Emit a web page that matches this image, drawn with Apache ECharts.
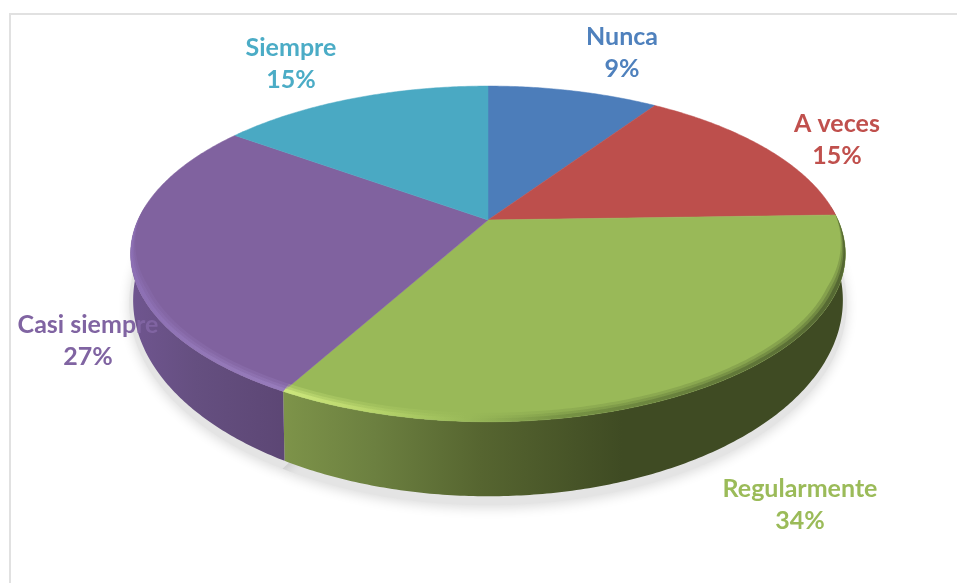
<!DOCTYPE html>
<html><head><meta charset="utf-8">
<style>html,body{margin:0;padding:0;background:#fff}#c{width:957px;height:583px}</style>
<script src="https://cdn.jsdelivr.net/npm/echarts@6/dist/echarts.min.js"></script></head>
<body><div id="c"></div>
<script>
const categories = ['Nunca','A veces','Regularmente','Casi siempre','Siempre'];
const values = [9.4, 15.1, 33.5, 27, 15];
const faceColors = ['#4c7dba','#bd4f4c','#99b958','#80629f','#4aa9c3'];
const textColors = ['#4f81bd','#c0504d','#9bbb59','#8064a2','#4bacc6'];
const labelCentres = [[622,53],[837,140],[800,505],[88,341],[291,64]];

const APEX = [488,220], R = 350, B = 161, K = 0.202;
const TOP = {sx:1, sy:1, drop:0};
const BOTTOM = {sx:0.993, sy:1.168, drop:40.6};
const SHADOW = {sx:1.004, sy:1.2, drop:43};
const total = values.reduce((a,b)=>a+b,0);
const WALL_FROM = 85*Math.PI/180, WALL_TO = 275*Math.PI/180;
const RIM_FROM = 88*Math.PI/180, RIM_TO = 272*Math.PI/180;
const G = echarts.graphic;

function project(theta, p){
  const u = Math.sin(theta), v = -Math.cos(theta), w = 1 - K*v;
  return [APEX[0] + p.sx*R*u/w, APEX[1] + p.drop + p.sy*B*v/w];
}
function steps(a0,a1){
  const n = Math.max(2, Math.ceil((a1-a0)/0.01)), t = [];
  for(let i=0;i<=n;i++) t.push(a0+(a1-a0)*i/n);
  return t;
}
function arc(a0, a1, p){ return steps(a0,a1).map(t=>project(t,p)); }
function band(a0, a1, d){
  const inner = steps(a0,a1).map(t=>{
    const taper = Math.min(1,(t-RIM_FROM)/0.45,(RIM_TO-t)/0.45);
    const e = d*Math.max(0,taper);
    return project(t,{sx:1-e,sy:1-1.6*e,drop:0});
  });
  return arc(a0,a1,TOP).concat(inner.reverse());
}
function xGrad(x0,x1,stops){
  return new G.LinearGradient(x0,0,x1,0,stops.map(s=>({offset:s[0],color:s[1]})),true);
}
const wallFills = [
  '#5a3a3a','#6b2c2a',
  xGrad(285,640,[[0,'#7d9349'],[0.25,'#6c8040'],[0.55,'#566530'],[0.95,'#3f4b23'],[1,'#3f4b23']]),
  xGrad(133,290,[[0,'#6f558f'],[0.4,'#654f80'],[1,'#5c4674']]),
  '#3a7a8c'
];
const rimFills = [
  '#4c7dba','#6e3130',
  xGrad(285,846,[[0,'#d6ef84'],[0.12,'#c5e074'],[0.25,'#a8c862'],[0.33,'#98b858'],[0.5,'#6f8a40'],[1,'#46562a']]),
  xGrad(133,290,[[0,'#8f72b8'],[0.5,'#977cbc'],[1,'#9c81c2']]),
  '#4aa9c3'
];

function renderItem(params, api){
  const i = params.dataIndex;
  let before = 0; for(let j=0;j<i;j++) before += values[j];
  const a0 = before/total*2*Math.PI, a1 = (before+api.value(1))/total*2*Math.PI;
  const children = [];
  const facePts = [APEX].concat(arc(a0,a1,TOP));
  children.push({type:'polygon',z2:3,shape:{points:facePts},style:{fill:faceColors[i],stroke:faceColors[i],lineWidth:0.5}});
  const w0 = Math.max(a0,WALL_FROM), w1 = Math.min(a1,WALL_TO);
  if(w1>w0){
    const top = arc(w0,w1,TOP), bot = arc(w0,w1,BOTTOM);
    children.push({type:'polygon',z2:2,shape:{points:top.concat(bot.reverse())},style:{fill:wallFills[i]}});
    children.push({type:'polygon',z2:1,shape:{points:arc(w0,w1,SHADOW).concat([[APEX[0],APEX[1]+60]])},
      style:{fill:'#e4e4e4',shadowBlur:12,shadowColor:'rgba(0,0,0,0.14)',shadowOffsetY:3}});
  }
  const r0 = Math.max(a0,RIM_FROM), r1 = Math.min(a1,RIM_TO);
  if(r1>r0){
    [[0.028,0.25],[0.019,0.35],[0.011,0.65]].forEach((b,k)=>{
      children.push({type:'polygon',z2:4+k,shape:{points:band(r0,r1,b[0])},
        style:{fill:rimFills[i],opacity:b[1]}});
    });
  }
  children.push({type:'text',z2:10,style:{
    text: categories[i]+'\n'+Math.round(api.value(1)/total*100)+'%',
    x:labelCentres[i][0], y:labelCentres[i][1], align:'center', verticalAlign:'middle',
    font:'bold 25px Lato, "Open Sans", sans-serif', lineHeight:32, fill:textColors[i]}});
  return {type:'group',children};
}

const chart = echarts.init(document.getElementById('c'),null,{renderer:'canvas'});
chart.setOption({
  animation:false,
  backgroundColor:'#fff',
  graphic:[{type:'rect',z:-1,shape:{x:10,y:14,width:1000,height:700},style:{fill:'#fff',stroke:'#e1e1e1',lineWidth:2},silent:true}],
  series:[{
    type:'custom',coordinateSystem:'none',renderItem,clip:false,silent:true,
    encode:{value:1},
    data:categories.map((c,i)=>[i,values[i]])
  }]
});
</script></body></html>
